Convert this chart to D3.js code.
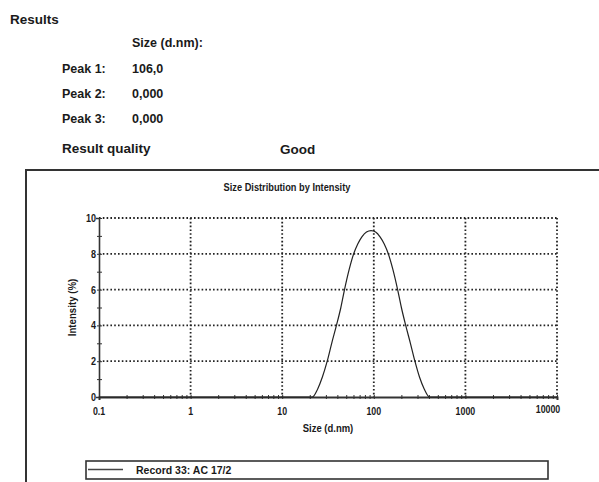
<!DOCTYPE html>
<html>
<head>
<meta charset="utf-8">
<script src="https://cdn.jsdelivr.net/npm/d3@7"></script>
<style>
	body { margin: 0; background: #fff; }
	svg { display: block; }
	.hd { font-family: "Liberation Sans", Arial, sans-serif; font-weight: bold; fill: #1a1a1a; }
	.nr { font-family: "Liberation Sans Narrow", "Arial Narrow", "Liberation Sans", sans-serif; font-weight: bold; fill: #1a1a1a; }
</style>
</head>
<body>
<div class="Chart"></div>
<script>
// results table
var peakNames = ["Peak 1:", "Peak 2:", "Peak 3:"];
var peakSizes = ["106,0", "0,000", "0,000"];
var quality = "Good";

// size distribution
var sizes =     [0.1, 1, 10, 18, 21.3, 24.4, 27.4, 31.0, 34.7, 39.1, 43.7, 47.9, 53.7, 60.3, 66.8, 74.1, 83.2, 93.3, 104.7, 117, 130, 144, 162, 182, 200, 223, 251, 281, 316, 355, 407, 1000, 10000];
var intensity = [0,   0, 0,  0,  0,    0.45, 1.1,  2.0,  3.0,  4.0,  5.0,  6.0,  7.1,  8.0,  8.55, 8.95, 9.22, 9.3,  9.22,  8.95, 8.55, 8.0, 7.1, 6.0, 5.0, 4.0, 3.0, 2.0, 1.1, 0.45, 0, 0, 0];

var xMajor = [0.1, 1, 10, 100, 1000, 10000];
var xLabels = ["0.1", "1", "10", "100", "1000", "10000"];
var yMajor = [0, 2, 4, 6, 8, 10];
var yMinor = [1, 3, 5, 7, 9];

var width = 599,
	height = 482;

// squeeze bold text so it looks like the narrow face of the original
function squeeze(sel, f) {
	sel.each(function() {
		var w = this.getComputedTextLength();
		d3.select(this).attr("textLength", w * f).attr("lengthAdjust", "spacingAndGlyphs");
	});
}

var svg = d3.select(".Chart").append("svg")
	.attr("width", width)
	.attr("height", height);

// header text
svg.append("text").attr("class", "hd").attr("x", 10).attr("y", 24).style("font-size", "13.5px").text("Results");
svg.append("text").attr("class", "hd").attr("x", 132).attr("y", 47).style("font-size", "12.5px").text("Size (d.nm):");
peakNames.forEach(function(p, i) {
	svg.append("text").attr("class", "hd").attr("x", 62).attr("y", 73 + i * 25).style("font-size", "12.5px").text(p);
	svg.append("text").attr("class", "hd").attr("x", 132).attr("y", 73 + i * 25).style("font-size", "12.5px").text(peakSizes[i]);
});
svg.append("text").attr("class", "hd").attr("x", 62).attr("y", 153).style("font-size", "13.5px").text("Result quality");
svg.append("text").attr("class", "hd").attr("x", 280).attr("y", 154).style("font-size", "13.5px").text(quality);

// frame (left + top only)
svg.append("path")
	.attr("d", "M26,482V170H599")
	.attr("fill", "none")
	.attr("stroke", "#333")
	.attr("stroke-width", 2);

var x = d3.scaleLog().domain([0.1, 10000]).range([99, 557]);
var y = d3.scaleLinear().domain([0, 10]).range([397, 218]);

svg.append("text").attr("class", "nr")
	.attr("x", 287).attr("y", 191)
	.attr("text-anchor", "middle")
	.style("font-size", "11px")
	.text("Size Distribution by Intensity")
	.call(squeeze, 0.84);

// dotted grid
var grid = svg.append("g")
	.attr("stroke", "#222")
	.attr("stroke-width", 1.8)
	.attr("stroke-dasharray", "1.6,2.2");

grid.selectAll(".gh").data(yMajor.slice(1)).enter().append("line")
	.attr("x1", x(0.1)).attr("x2", x(10000))
	.attr("y1", function(d) { return y(d); })
	.attr("y2", function(d) { return y(d); });

grid.selectAll(".gv").data(xMajor.slice(1)).enter().append("line")
	.attr("x1", function(d) { return x(d); })
	.attr("x2", function(d) { return x(d); })
	.attr("y1", y(10)).attr("y2", y(0));

// x axis
var xMinor = [];
xMajor.slice(0, -1).forEach(function(d) {
	for (var k = 2; k < 10; k++) xMinor.push(d * k);
});

var xAxis = svg.append("g")
	.attr("transform", "translate(0," + y(0) + ")")
	.call(d3.axisBottom(x).tickValues(xMinor.concat(xMajor)).tickSize(3).tickFormat(""));
xAxis.select(".domain").attr("stroke", "#333").attr("stroke-width", 2);
xAxis.selectAll(".tick line").attr("y1", -2).attr("y2", 2).attr("stroke", "#333");

svg.selectAll(".xl").data(xMajor).enter().append("text")
	.attr("class", "nr")
	.attr("x", function(d, i) { return i == 5 ? x(d) - 9 : x(d); })
	.attr("y", function(d, i) { return i == 5 ? 413 : 415; })
	.attr("text-anchor", "middle")
	.style("font-size", "11px")
	.text(function(d, i) { return xLabels[i]; })
	.call(squeeze, 0.8);

svg.append("text").attr("class", "nr")
	.attr("x", 328).attr("y", 432)
	.attr("text-anchor", "middle")
	.style("font-size", "11px")
	.text("Size (d.nm)")
	.call(squeeze, 0.86);

// y axis
var yAxis = svg.append("g")
	.attr("transform", "translate(" + x(0.1) + ",0)")
	.call(d3.axisLeft(y).tickValues(yMajor.concat(yMinor)).tickSize(3).tickFormat(""));
yAxis.select(".domain").attr("stroke", "#333").attr("stroke-width", 1.6);
yAxis.selectAll(".tick line").attr("x1", -2).attr("x2", 3).attr("stroke", "#333");

svg.selectAll(".yl").data(yMajor).enter().append("text")
	.attr("class", "nr")
	.attr("x", 96)
	.attr("y", function(d) { return y(d) + 4; })
	.attr("text-anchor", "end")
	.style("font-size", "11px")
	.text(function(d) { return d; })
	.call(squeeze, 0.82);

svg.append("text").attr("class", "nr")
	.attr("transform", "translate(76," + y(5) + ") rotate(-90)")
	.attr("text-anchor", "middle")
	.style("font-size", "11px")
	.text("Intensity (%)")
	.call(squeeze, 0.88);

// distribution curve
var line = d3.line()
	.x(function(d, i) { return x(sizes[i]); })
	.y(function(d) { return y(d); })
	.curve(d3.curveMonotoneX);

svg.append("path")
	.datum(intensity)
	.attr("d", line)
	.attr("fill", "none")
	.attr("stroke", "#222")
	.attr("stroke-width", 1.2);

// legend
svg.append("rect")
	.attr("x", 86).attr("y", 461)
	.attr("width", 462).attr("height", 18)
	.attr("fill", "none")
	.attr("stroke", "#333")
	.attr("stroke-width", 1.6);
svg.append("line")
	.attr("x1", 88).attr("x2", 123)
	.attr("y1", 469.5).attr("y2", 469.5)
	.attr("stroke", "#444")
	.attr("stroke-width", 1.3);
svg.append("text").attr("class", "nr")
	.attr("x", 136).attr("y", 474)
	.style("font-size", "10.5px")
	.text("Record 33: AC 17/2");
</script>
</body>
</html>
